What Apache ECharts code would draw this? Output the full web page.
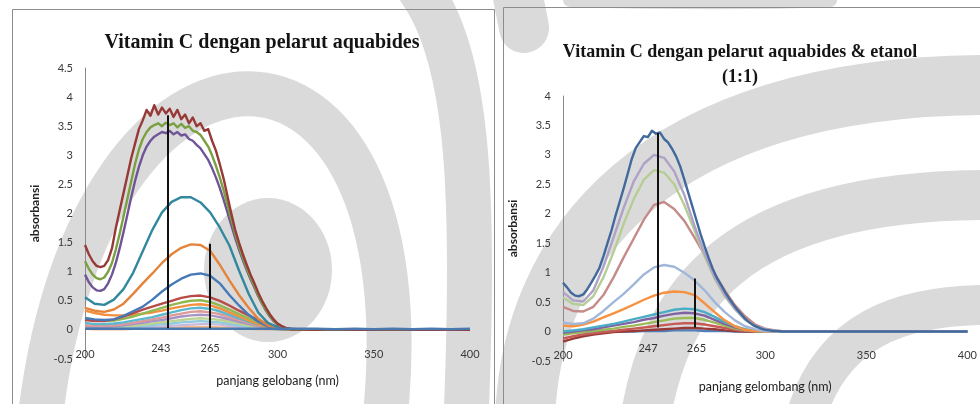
<!DOCTYPE html>
<html>
<head>
<meta charset="utf-8">
<script src="https://cdn.jsdelivr.net/npm/echarts@6/dist/echarts.min.js"></script>
<style>
  html, body { margin: 0; padding: 0; background: #ffffff; }
  #main { width: 980px; height: 404px; }
</style>
</head>
<body>
<div id="main"></div>
<script>
// Wavelength grids (nm): a fine one for the noisy high-absorbance scans, a coarse one for the smooth scans
const wlFine = [200,202,204,206,208,210,212,214,216,218,220,222,224,226,228,230,232,234,236,238,240,242,244,246,248,250,252,254,256,258,260,262,264,266,268,270,272,274,276,278,280,282,284,286,288,290,292,294,296,298,300,302,304,306,308,310,320,330,340,350,360,370,380,390,400];
const wlCoarse = [200,205,210,215,220,225,230,235,240,245,250,255,260,265,270,275,280,285,290,295,300,305,310,320,330,340,350,360,370,380,390,400];

// Axis ticks and the tick values that carry a printed label
const xTicks = [200, 250, 300, 350, 400];
const xTickLabels = [200, 300, 350, 400];
const yTicksLeft = [-0.5, 0, 0.5, 1, 1.5, 2, 2.5, 3, 3.5, 4, 4.5];
const yTicksRight = [-0.5, 0, 0.5, 1, 1.5, 2, 2.5, 3, 3.5, 4];

// ---- Vitamin C in aquabides (absorbance) ----
const aqBrown = [1.46,1.30,1.18,1.10,1.08,1.10,1.20,1.40,1.75,2.05,2.35,2.65,2.95,3.20,3.45,3.60,3.78,3.68,3.86,3.70,3.82,3.72,3.80,3.66,3.78,3.62,3.70,3.55,3.65,3.50,3.55,3.42,3.45,3.25,3.08,2.85,2.60,2.30,2.00,1.72,1.50,1.30,1.12,0.95,0.80,0.64,0.50,0.38,0.27,0.18,0.11,0.07,0.04,0.02,0.01,0.01,0,0.01,0,0,0.01,0,0,0,0];
const aqGreen = [1.18,1.05,0.95,0.89,0.87,0.90,1.00,1.15,1.38,1.65,1.95,2.25,2.55,2.85,3.10,3.28,3.40,3.48,3.52,3.55,3.50,3.56,3.52,3.55,3.48,3.54,3.47,3.50,3.42,3.40,3.35,3.25,3.15,3.00,2.82,2.62,2.40,2.15,1.90,1.65,1.43,1.24,1.06,0.90,0.75,0.60,0.46,0.34,0.24,0.16,0.10,0.06,0.03,0.02,0.01,0,0,0,0,0,0,0,0,0,0];
const aqPurple = [0.95,0.82,0.73,0.68,0.67,0.70,0.80,0.95,1.15,1.40,1.68,1.98,2.28,2.56,2.80,3.00,3.15,3.25,3.32,3.36,3.40,3.38,3.42,3.36,3.40,3.34,3.36,3.28,3.25,3.18,3.12,3.02,2.92,2.78,2.62,2.44,2.24,2.02,1.80,1.58,1.38,1.20,1.03,0.87,0.73,0.58,0.45,0.33,0.23,0.15,0.09,0.05,0.03,0.02,0.01,0,0,0,0,0,0,0,0,0,0];
const aqTeal = [0.56,0.45,0.43,0.52,0.70,0.98,1.35,1.72,2.02,2.20,2.28,2.28,2.19,2.02,1.76,1.45,1.02,0.62,0.30,0.12,0.05,0.02,0.01,0,0,0,0,0,0,0,0,0];
const aqOrange = [0.38,0.33,0.31,0.35,0.45,0.62,0.80,0.97,1.15,1.30,1.41,1.47,1.46,1.36,1.12,0.85,0.60,0.38,0.19,0.08,0.03,0.01,0,0,0,0,0,0,0,0,0,0];
const aqBlue = [0.20,0.18,0.17,0.18,0.24,0.32,0.40,0.52,0.66,0.78,0.88,0.95,0.97,0.93,0.80,0.60,0.42,0.26,0.14,0.06,0.02,0.01,0,0,0,0,0,0,0,0,0,0];
const aqRed = [0.17,0.15,0.15,0.18,0.23,0.29,0.35,0.40,0.45,0.50,0.55,0.58,0.59,0.56,0.50,0.42,0.33,0.25,0.17,0.10,0.05,0.02,0.01,0,0,0,0,0,0,0,0,0];
const aqLime = [0.21,0.17,0.15,0.16,0.19,0.23,0.28,0.33,0.38,0.43,0.47,0.50,0.51,0.48,0.42,0.35,0.27,0.20,0.13,0.07,0.03,0.01,0,0,0,0,0,0,0,0,0,0];
const aqAmber = [0.33,0.29,0.26,0.25,0.25,0.26,0.28,0.30,0.33,0.37,0.40,0.43,0.44,0.42,0.37,0.30,0.23,0.16,0.10,0.05,0.02,0.01,0,0,0,0,0,0,0,0,0,0];
const aqAqua = [0.12,0.10,0.10,0.11,0.13,0.16,0.19,0.22,0.26,0.30,0.34,0.37,0.38,0.36,0.32,0.26,0.20,0.14,0.09,0.05,0.02,0.01,0,0,0,0,0,0,0,0,0,0];
const aqPink = [0.08,0.07,0.07,0.08,0.10,0.12,0.15,0.18,0.21,0.25,0.28,0.31,0.32,0.30,0.27,0.22,0.17,0.12,0.07,0.04,0.02,0.01,0,0,0,0,0,0,0,0,0,0];
const aqLavender = [0.06,0.05,0.05,0.06,0.08,0.10,0.12,0.15,0.17,0.20,0.23,0.25,0.26,0.25,0.22,0.18,0.14,0.10,0.06,0.03,0.01,0.01,0,0,0,0,0,0,0,0,0,0];
const aqPaleGreen = [0.05,0.04,0.04,0.05,0.06,0.07,0.09,0.11,0.13,0.15,0.17,0.19,0.20,0.19,0.17,0.14,0.11,0.07,0.04,0.02,0.01,0,0,0,0,0,0,0,0,0,0,0];
const aqPaleAqua = [0.04,0.03,0.03,0.03,0.04,0.05,0.07,0.08,0.10,0.11,0.13,0.14,0.15,0.14,0.13,0.10,0.08,0.05,0.03,0.02,0.01,0,0,0,0,0,0,0,0,0,0,0];
const aqPaleViolet = [0.03,0.02,0.02,0.02,0.03,0.04,0.05,0.05,0.06,0.07,0.08,0.09,0.10,0.10,0.09,0.07,0.05,0.04,0.02,0.01,0.01,0,0,0,0,0,0,0,0,0,0,0];
const aqPeach = [0.02,0.01,0.01,0.01,0.01,0.02,0.02,0.03,0.03,0.03,0.04,0.05,0.05,0.05,0.04,0.04,0.03,0.02,0.01,0.01,0,0,0,0,0,0,0,0,0,0,0,0];
const aqBase = [0.02,0.02,0.02,0.02,0.02,0.02,0.02,0.02,0.02,0.02,0.02,0.02,0.02,0.02,0.02,0.02,0.02,0.02,0.02,0.02,0.02,0.02,0.02,0.02,0.01,0.02,0.01,0.02,0.01,0.02,0.01,0.02];

// ---- Vitamin C in aquabides & etanol 1:1 (absorbance) ----
const etDarkBlue = [0.83,0.75,0.66,0.61,0.60,0.63,0.72,0.83,0.95,1.08,1.28,1.50,1.72,1.97,2.20,2.43,2.68,2.93,3.12,3.22,3.32,3.30,3.41,3.36,3.38,3.27,3.21,3.10,2.97,2.80,2.58,2.35,2.12,1.89,1.66,1.45,1.25,1.07,0.92,0.80,0.68,0.57,0.47,0.38,0.30,0.22,0.16,0.11,0.08,0.05,0.03,0.02,0.01,0.01,0,0,0,0,0,0,0,0,0,0,0];
const etLavender = [0.67,0.53,0.51,0.70,1.10,1.60,2.10,2.55,2.85,3.00,2.95,2.72,2.32,1.80,1.32,0.92,0.62,0.39,0.21,0.09,0.04,0.01,0,0,0,0,0,0,0,0,0,0];
const etSage = [0.58,0.47,0.45,0.60,0.92,1.35,1.83,2.25,2.58,2.74,2.70,2.50,2.15,1.72,1.28,0.90,0.60,0.38,0.20,0.09,0.04,0.01,0,0,0,0,0,0,0,0,0,0];
const etRose = [0.42,0.35,0.34,0.42,0.62,0.92,1.26,1.58,1.90,2.15,2.20,2.08,1.88,1.60,1.30,0.98,0.70,0.45,0.26,0.12,0.05,0.02,0,0,0,0,0,0,0,0,0,0];
const etSky = [0.15,0.13,0.14,0.22,0.35,0.50,0.64,0.80,0.97,1.09,1.13,1.10,1.00,0.87,0.70,0.50,0.33,0.19,0.09,0.04,0.01,0,0,0,0,0,0,0,0,0,0,0];
const etOrange = [0.10,0.09,0.12,0.17,0.24,0.31,0.38,0.46,0.54,0.61,0.66,0.68,0.67,0.62,0.48,0.33,0.19,0.09,0.03,0.01,0,0,0,0,0,0,0,0,0,0,0,0];
const etAqua = [0,0.02,0.04,0.07,0.10,0.13,0.17,0.21,0.25,0.29,0.33,0.37,0.39,0.38,0.33,0.25,0.16,0.09,0.04,0.01,0,0,0,0,0,0,0,0,0,0,0,0];
const etPurple = [-0.02,0,0.02,0.04,0.07,0.10,0.13,0.16,0.20,0.23,0.27,0.30,0.32,0.31,0.27,0.20,0.13,0.07,0.03,0.01,0,0,0,0,0,0,0,0,0,0,0,0];
const etGreen = [-0.05,-0.03,-0.01,0.01,0.03,0.05,0.08,0.10,0.13,0.16,0.19,0.22,0.23,0.23,0.20,0.15,0.10,0.05,0.02,0.01,0,0,0,0,0,0,0,0,0,0,0,0];
const etRed = [-0.12,-0.08,-0.05,-0.03,-0.01,0.01,0.03,0.05,0.07,0.09,0.11,0.13,0.14,0.14,0.12,0.09,0.06,0.03,0.01,0,0,0,0,0,0,0,0,0,0,0,0,0];
const etMaroon = [-0.17,-0.12,-0.08,-0.05,-0.03,-0.01,0,0.01,0.02,0.03,0.04,0.05,0.06,0.06,0.05,0.04,0.02,0.01,0,0,0,0,0,0,0,0,0,0,0,0,0,0];
const etBase = [-0.03,-0.02,-0.01,0,0,0,0,0,0.01,0.01,0.01,0.02,0.02,0.02,0.01,0.01,0.01,0,0,0,0,0,0,0,0,0,0,0,0,0,0,0];

// Peak wavelengths marked with vertical lines: wavelength, and absorbance range of the line
const aqPeakNm = [243, 265];
const aqPeakTop = [3.69, 1.48];
const aqPeakBottom = [0.03, 0.03];
const etPeakNm = [247, 265];
const etPeakTop = [3.37, 0.9];
const etPeakBottom = [0.07, 0.07];

// ---------------------------------------------------------------------
const FONT = 'Lato, "Open Sans", sans-serif';
const pairs = (wl, vals) => vals.map((v, i) => [wl[i], v]);

// draw order and colour of each scan (later ones sit on top)
const aqSeries = [
  [wlCoarse, aqPeach, '#f8b98a'],
  [wlCoarse, aqPaleViolet, '#c9b9dc'],
  [wlCoarse, aqPaleAqua, '#8fcbdc'],
  [wlCoarse, aqPaleGreen, '#bcd394'],
  [wlCoarse, aqLavender, '#a794c4'],
  [wlCoarse, aqPink, '#dc9a98'],
  [wlCoarse, aqAqua, '#5db7cf'],
  [wlCoarse, aqAmber, '#f2903f'],
  [wlCoarse, aqLime, '#92b852'],
  [wlCoarse, aqRed, '#b84a47'],
  [wlCoarse, aqBlue, '#4679b8'],
  [wlCoarse, aqOrange, '#e3843a'],
  [wlCoarse, aqTeal, '#32889f'],
  [wlFine, aqPurple, '#6f5598'],
  [wlFine, aqGreen, '#7aa041'],
  [wlFine, aqBrown, '#973a37'],
  [wlCoarse, aqBase, '#4a79b0']
];
const etSeries = [
  [wlCoarse, etBase, '#4f81bd'],
  [wlCoarse, etMaroon, '#9a3a37'],
  [wlCoarse, etRed, '#c65a57'],
  [wlCoarse, etGreen, '#9bbb59'],
  [wlCoarse, etPurple, '#8064a2'],
  [wlCoarse, etAqua, '#4bacc6'],
  [wlCoarse, etOrange, '#f7913f'],
  [wlCoarse, etSky, '#a0b7d9'],
  [wlCoarse, etRose, '#c48b89'],
  [wlCoarse, etSage, '#b6cd95'],
  [wlCoarse, etLavender, '#aea2c6'],
  [wlFine, etDarkBlue, '#41699c']
];

function peakLines(nm, top, bottom, shifts, gap) {
  return nm.map((x, i) => [
    { coord: [x, bottom[i]], label: { formatter: String(x), padding: shifts[i], distance: gap } },
    { coord: [x, top[i]] }
  ]);
}

function buildSeries(list, gridIdx, marks) {
  return list.map((s, k) => {
    const item = {
      type: 'line',
      xAxisIndex: gridIdx,
      yAxisIndex: gridIdx,
      data: pairs(s[0], s[1]),
      showSymbol: false,
      symbol: 'none',
      silent: true,
      lineStyle: { color: s[2], width: 2.4, join: 'round' },
      itemStyle: { color: s[2] },
      z: 3
    };
    if (k === list.length - 1) {
      item.markLine = {
        silent: true,
        symbol: ['none', 'none'],
        animation: false,
        lineStyle: { color: '#111', width: 2, type: 'solid' },
        label: {
          show: true, position: 'start', color: '#333',
          fontFamily: FONT, fontSize: 11
        },
        data: marks
      };
    }
    return item;
  });
}

function xAxisCfg(grid, name, margin, gap) {
  return {
    gridIndex: grid, type: 'value', min: xTicks[0], max: xTicks[xTicks.length - 1],
    interval: xTicks[1] - xTicks[0],
    axisLine: { show: false, onZero: false }, axisTick: { show: false }, splitLine: { show: false },
    axisLabel: {
      margin: margin, color: '#3a3a3a', fontFamily: FONT, fontSize: 11,
      formatter: v => (xTickLabels.indexOf(v) >= 0 ? String(v) : '')
    },
    name: name, nameLocation: 'middle', nameGap: gap,
    nameTextStyle: { color: '#222', fontFamily: FONT, fontSize: 12.5 }
  };
}
function yAxisCfg(grid, ticks) {
  return {
    gridIndex: grid, type: 'value', min: ticks[0], max: ticks[ticks.length - 1],
    interval: ticks[1] - ticks[0],
    axisLine: { show: true, onZero: false, lineStyle: { color: '#8a8a8a', width: 1 } },
    axisTick: { show: false }, splitLine: { show: false },
    axisLabel: { margin: 12, color: '#3a3a3a', fontFamily: FONT, fontSize: 11 },
    name: 'absorbansi', nameLocation: 'middle', nameGap: 44, nameRotate: 90,
    nameTextStyle: { color: '#222', fontFamily: FONT, fontSize: 12, fontWeight: 'bold' }
  };
}

// pale grey page pattern behind both charts: [x1, y1, cx1, cy1, cx2, cy2, x2, y2, width]
const stripeColor = '#dadada';
const stripes = [
  [40, 420, 90, -15, 430, -15, 385, 420, 45],
  [466, 420, 475, 200, 470, 60, 420, -10, 45],
  [525, 420, 530, 250, 650, 85, 990, 85, 60],
  [645, 420, 665, 300, 730, 195, 990, 195, 50],
  [805, 420, 830, 330, 900, 305, 990, 305, 40],
  [570, 0, 680, 3, 760, 3, 830, 0, 14],
  [515, -20, 518, 0, 522, 15, 524, 28, 50]
];
const backdrop = stripes.map(s => ({
  type: 'bezierCurve', silent: true, z: -10,
  shape: { x1: s[0], y1: s[1], cpx1: s[2], cpy1: s[3], cpx2: s[4], cpy2: s[5], x2: s[6], y2: s[7] },
  style: { fill: null, stroke: stripeColor, lineWidth: s[8], lineCap: 'round' }
})).concat([
  { type: 'ellipse', silent: true, z: -10, shape: { cx: 268, cy: 270, rx: 64, ry: 72 }, style: { fill: stripeColor } }
]);

const frames = [
  { type: 'rect', shape: { x: 12.5, y: 9.5, width: 482, height: 430 }, style: { fill: 'none', stroke: '#8c8c8c', lineWidth: 1 } },
  { type: 'rect', shape: { x: 503.5, y: 7.5, width: 500, height: 430 }, style: { fill: 'none', stroke: '#8c8c8c', lineWidth: 1 } }
].map(e => Object.assign(e, { z: -5, silent: true }));

function title(text, x, y, size) {
  return {
    type: 'text', x: x, y: y, silent: true, z: 10,
    style: {
      text: text, fill: '#141414', font: 'bold ' + size + 'px "Liberation Serif", serif',
      align: 'center', verticalAlign: 'middle', textAlign: 'center', textVerticalAlign: 'middle'
    }
  };
}

const chart = echarts.init(document.getElementById('main'), null, { renderer: 'canvas' });
chart.setOption({
  animation: false,
  backgroundColor: '#ffffff',
  grid: [
    { left: 85, top: 68, width: 385, height: 291 },
    { left: 563, top: 96, width: 405, height: 265 }
  ],
  xAxis: [
    xAxisCfg(0, 'panjang gelobang (nm)', -10, 15),
    xAxisCfg(1, 'panjang gelombang (nm)', -11, 19)
  ],
  yAxis: [yAxisCfg(0, yTicksLeft), yAxisCfg(1, yTicksRight)],
  graphic: backdrop.concat(frames, [
    title('Vitamin C dengan pelarut aquabides', 262, 43, 20),
    title('Vitamin C dengan pelarut aquabides & etanol', 740, 52, 18),
    title('(1:1)', 740, 77, 18)
  ]),
  series: buildSeries(aqSeries, 0, peakLines(aqPeakNm, aqPeakTop, aqPeakBottom, [[0, 14, 0, 0], [0, 0, 0, 0]], 15))
    .concat(buildSeries(etSeries, 1, peakLines(etPeakNm, etPeakTop, etPeakBottom, [[0, 20, 0, 0], [0, 0, 0, 4]], 16)))
});
</script>
</body>
</html>
